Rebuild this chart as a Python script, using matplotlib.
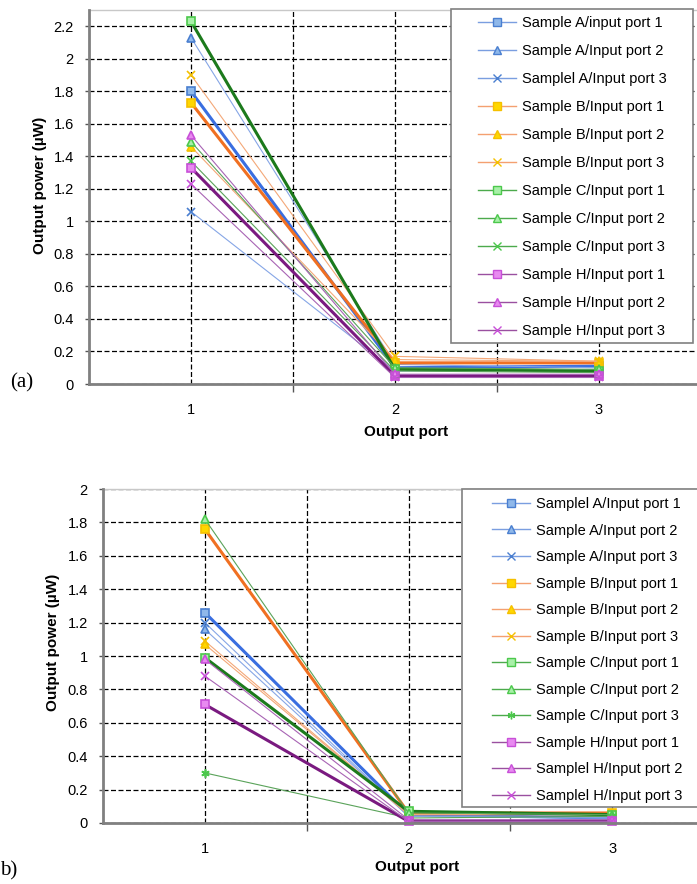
import matplotlib

matplotlib.use("Agg")

import matplotlib.pyplot as plt  # noqa: E402
from matplotlib.lines import Line2D  # noqa: E402
from matplotlib.patches import Rectangle  # noqa: E402
from matplotlib.ticker import FuncFormatter, FixedLocator  # noqa: E402

plt.rcParams["font.family"] = ["Liberation Sans", "DejaVu Sans"]

ports = [1, 2, 3]
series_keys = ["A1", "A2", "A3", "B1", "B2", "B3", "C1", "C2", "C3", "H1", "H2", "H3"]

# panel (a) output power per series (uW) at output port 1, 2, 3
power_a = {
    "A1": [1.80, 0.10, 0.11],
    "A2": [2.13, 0.12, 0.10],
    "A3": [1.06, 0.08, 0.09],
    "B1": [1.73, 0.13, 0.13],
    "B2": [1.46, 0.15, 0.14],
    "B3": [1.90, 0.17, 0.14],
    "C1": [2.23, 0.09, 0.08],
    "C2": [1.49, 0.10, 0.09],
    "C3": [1.37, 0.08, 0.07],
    "H1": [1.33, 0.05, 0.05],
    "H2": [1.53, 0.06, 0.06],
    "H3": [1.23, 0.04, 0.04],
}
labels_a = [
    "Sample A/input port 1", "Sample A/Input port 2", "Samplel A/Input port 3",
    "Sample B/Input port 1", "Sample B/Input port 2", "Sample B/Input port 3",
    "Sample C/Input port 1", "Sample C/Input port 2", "Sample C/Input port 3",
    "Sample H/Input port 1", "Sample H/Input port 2", "Sample H/Input port 3",
]

# panel (b)
power_b = {
    "A1": [1.26, 0.05, 0.03],
    "A2": [1.16, 0.04, 0.03],
    "A3": [1.20, 0.04, 0.03],
    "B1": [1.76, 0.06, 0.06],
    "B2": [1.07, 0.05, 0.05],
    "B3": [1.09, 0.05, 0.05],
    "C1": [0.99, 0.07, 0.05],
    "C2": [1.82, 0.06, 0.05],
    "C3": [0.30, 0.03, 0.04],
    "H1": [0.71, 0.01, 0.01],
    "H2": [0.98, 0.02, 0.02],
    "H3": [0.88, 0.01, 0.01],
}
labels_b = [
    "Samplel A/Input port 1", "Sample A/Input port 2", "Sample A/Input port 3",
    "Sample B/Input port 1", "Sample B/Input port 2", "Sample B/Input port 3",
    "Sample C/Input port 1", "Sample C/Input port 2", "Sample C/Input port 3",
    "Sample H/Input port 1", "Samplel H/Input port 2", "Samplel H/Input port 3",
]

# styling per sample: thick line, thin line, legend line, marker face, marker edge
SAMPLE_STYLE = {
    "A": ("#3a6ee0", "#86a6e6", "#7a9ee0", "#8fb8ea", "#4a7fd0"),
    "B": ("#f07022", "#f4a878", "#f4a070", "#ffd700", "#f5c000"),
    "C": ("#1c7a1c", "#5aa35a", "#4caa4c", "#a8f0a8", "#4cc84c"),
    "H": ("#7a1a80", "#a864b4", "#9a50a0", "#e88af0", "#c850d8"),
}
MARKERS = {"1": "s", "2": "^", "3": "x"}


def style_for(key, panel):
    thick, thin, leg, face, edge = SAMPLE_STYLE[key[0]]
    marker = MARKERS[key[1]]
    if panel == "b" and key == "C3":
        marker = (6, 2, 0)
    color = thick if key[1] == "1" else thin
    lw = 2.2 if key[1] == "1" else 0.8
    return color, lw, marker, leg, face, edge


def draw_panel(fig, rect, power, labels, ymax, yticks_max, panel, box, leg_anchor, spacing):
    ax = fig.add_axes(rect)
    handles = []
    for key in series_keys:
        color, lw, marker, leg, face, edge = style_for(key, panel)
        ax.plot(ports, power[key], color=color, lw=lw, marker=marker, ms=6,
                mfc=face, mec=edge, mew=1.2, clip_on=False, zorder=3)
        handles.append(Line2D([], [], color=leg, lw=1.0, marker=marker, ms=5.5,
                              mfc=face, mec=edge, mew=1.0))

    ax.set_xlim(0.5, 3.5)
    ax.set_ylim(0, ymax)
    ax.xaxis.set_major_locator(FixedLocator([1, 2, 3]))
    ax.xaxis.set_minor_locator(FixedLocator([1.5, 2.5]))
    ax.tick_params(axis="x", which="major", length=0, pad=14, labelsize=10.5)
    ax.tick_params(axis="x", which="minor", length=6, width=1, color="#555555", direction="out")
    yt = [round(0.2 * i, 1) for i in range(int(round(yticks_max / 0.2)) + 1)]
    ax.set_yticks(yt)
    ax.yaxis.set_major_formatter(FuncFormatter(lambda v, p: f"{v:g}"))
    ax.tick_params(axis="y", length=3, width=1, color="#555555", pad=8, labelsize=10.5)

    ax.grid(True, which="both", axis="x", color="black", ls=(0, (4, 2)), lw=0.9)
    ax.grid(True, which="major", axis="y", color="black", ls=(0, (4, 2)), lw=0.9)
    ax.set_axisbelow(True)

    for side in ("left", "bottom"):
        ax.spines[side].set_color("#808080")
        ax.spines[side].set_linewidth(2.0)
        ax.spines[side].set_zorder(4)
    ax.spines["top"].set_color("#c8c8c8")
    ax.spines["top"].set_linewidth(1.0)
    ax.spines["right"].set_visible(False)

    ax.set_xlabel("Output port", fontsize=11, fontweight="bold")
    ax.set_ylabel("Output power (\u00b5W)", fontsize=11, fontweight="bold")

    # legend box drawn as a separate frame
    x0, y0, x1, y1 = box
    W, H = 697, 884
    fig.add_artist(Rectangle((x0 / W, 1 - y1 / H), (x1 - x0) / W, (y1 - y0) / H,
                             transform=fig.transFigure, facecolor="white",
                             edgecolor="#808080", lw=1.2, zorder=1))
    fig.legend(handles, labels, loc="upper left",
               bbox_to_anchor=(leg_anchor[0] / W, 1 - leg_anchor[1] / H),
               bbox_transform=fig.transFigure, frameon=False, fontsize=10.5,
               borderpad=0, borderaxespad=0, handlelength=2.6, handletextpad=0.45,
               labelspacing=spacing)
    return ax


W, H = 697, 884
fig = plt.figure(figsize=(6.97, 8.84), dpi=100)

ax_a = draw_panel(fig, [89 / W, 1 - 384 / H, 612 / W, 374 / H], power_a, labels_a,
                  2.3, 2.2, "a", (451, 9, 693, 343), (478, 16), 0.96)
ax_a.xaxis.set_label_coords(0.518, -0.11)
ax_a.yaxis.set_label_coords(-0.069, 0.532)

ax_b = draw_panel(fig, [103 / W, 1 - 823 / H, 611 / W, 334 / H], power_b, labels_b,
                  2.0, 2.0, "b", (462, 489, 700, 807), (492, 497), 0.86)
ax_b.xaxis.set_label_coords(0.514, -0.11)
ax_b.yaxis.set_label_coords(-0.07, 0.54)

fig.text(10 / W, 1 - 383 / H, "(a)", fontsize=15, family=["Liberation Serif"], va="center")
fig.text(0 / W, 1 - 871 / H, "b)", fontsize=15, family=["Liberation Serif"], va="center")

fig.savefig("out.png", dpi=100)
